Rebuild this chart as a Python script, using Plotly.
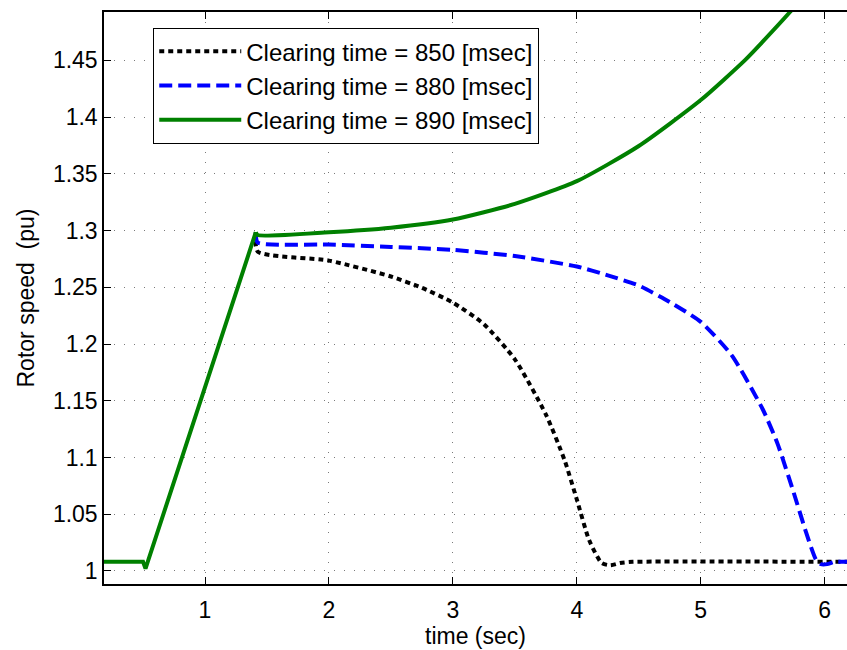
import plotly.graph_objects as go

# Common part (pre-fault / fault-on), shared by all three runs
t_common = [0.185, 0.50, 0.52, 1.41]
w_common = [1.008, 1.008, 1.002, 1.2985]

# Clearing time = 850 ms (post-fault)
t_850 = [1.41, 1.425, 2.0, 2.5, 2.75, 3.0, 3.25, 3.5, 3.75, 3.9, 4.0, 4.1,
         4.2, 4.27, 4.35, 4.45, 6.18]
w_850 = [1.2985, 1.2815, 1.2735, 1.2595, 1.2495, 1.2365, 1.2175, 1.1865, 1.138, 1.098,
         1.063, 1.027, 1.007, 1.005, 1.007, 1.008, 1.008]

# Clearing time = 880 ms (post-fault)
t_880 = [1.41, 1.425, 2.0, 2.5, 3.0, 3.5, 4.0, 4.25, 4.5, 4.75, 5.0, 5.25, 5.5,
         5.62, 5.75, 5.85, 5.93, 5.97, 6.02, 6.08, 6.18]
w_880 = [1.2985, 1.2895, 1.2877, 1.2855, 1.2830, 1.2775, 1.2683, 1.2605, 1.2515,
         1.2370, 1.2195, 1.190, 1.1425, 1.112, 1.069, 1.034, 1.010, 1.006, 1.006,
         1.008, 1.008]

# Clearing time = 890 ms (post-fault)
t_890 = [1.41, 1.425, 2.0, 2.5, 3.0, 3.5, 4.0, 4.5, 5.0, 5.355, 5.5, 5.72, 5.8]
w_890 = [1.2985, 1.296, 1.2985, 1.3025, 1.3097, 1.3235, 1.3435, 1.3745, 1.415, 1.450,
         1.4665, 1.4926, 1.503]

names = ["Clearing time = 850 [msec]", "Clearing time = 880 [msec]",
         "Clearing time = 890 [msec]"]
x_ticks = [1, 2, 3, 4, 5, 6]
y_ticks = [1.0, 1.05, 1.1, 1.15, 1.2, 1.25, 1.3, 1.35, 1.4, 1.45]
y_ticktext = ["1", "1.05", "1.1", "1.15", "1.2", "1.25", "1.3", "1.35", "1.4", "1.45"]

FONT = "Liberation Sans, Arial, sans-serif"
FS = 23
LW = 4

fig = go.Figure()
fig.add_trace(go.Scatter(x=t_850, y=w_850, mode="lines", name=names[0],
                         line=dict(color="#000000", width=LW, dash="5px,4px",
                                   shape="spline", smoothing=0.6)))
fig.add_trace(go.Scatter(x=t_880, y=w_880, mode="lines", name=names[1],
                         line=dict(color="#0000ff", width=LW, dash="13px,6px",
                                   shape="spline", smoothing=0.6)))
fig.add_trace(go.Scatter(x=t_890, y=w_890, mode="lines", name=names[2],
                         line=dict(color="#008000", width=LW,
                                   shape="spline", smoothing=0.6)))
# shared fault-on segment (drawn in green, on top, as in the original)
fig.add_trace(go.Scatter(x=t_common, y=w_common, mode="lines", showlegend=False,
                         line=dict(color="#008000", width=LW)))

axis_common = dict(
    showgrid=True, gridcolor="#7a7a7a", griddash="1px,9px", gridwidth=1,
    showline=True, linecolor="#000000", linewidth=1.5,
    ticks="inside", ticklen=7, tickwidth=1, tickcolor="#000000",
    zeroline=False,
    tickfont=dict(family=FONT, size=FS, color="#000000"),
)

fig.update_layout(
    width=847, height=650,
    margin=dict(l=104, r=0, t=12, b=66),
    paper_bgcolor="white", plot_bgcolor="white",
    font=dict(family=FONT, size=FS, color="#000000"),
    showlegend=True,
    legend=dict(x=0.066, y=0.972, xanchor="left", yanchor="top",
                bgcolor="white", bordercolor="#000000", borderwidth=1.2,
                font=dict(family=FONT, size=24, color="#000000"),
                itemwidth=82, tracegroupgap=0),
    xaxis=dict(range=[0.185, 6.18], tickvals=x_ticks, mirror="ticks",
               ticklabelstandoff=5,
               title=dict(text="time (sec)", font=dict(family=FONT, size=FS),
                          standoff=4),
               **axis_common),
    yaxis=dict(range=[0.9885, 1.4926], tickvals=y_ticks, ticktext=y_ticktext,
               ticklabelstandoff=0,
               title=dict(text="Rotor speed  (pu)", font=dict(family=FONT, size=FS),
                          standoff=12),
               **axis_common),
)

fig.write_html("out.html")
